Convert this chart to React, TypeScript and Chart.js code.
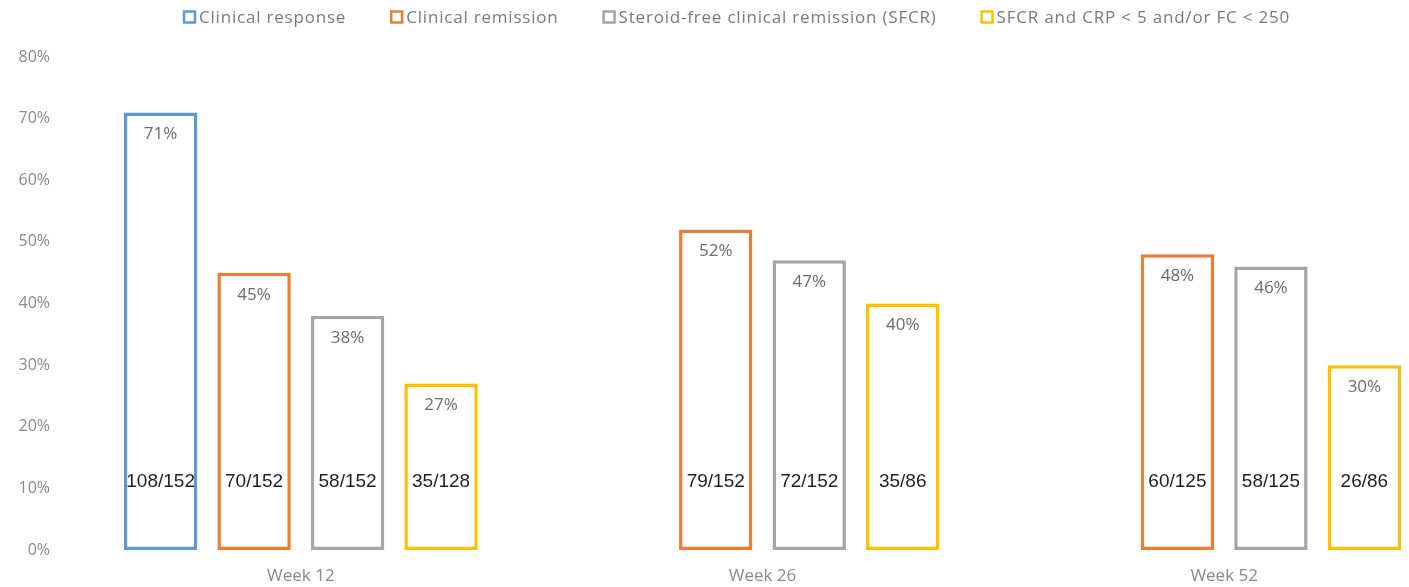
import React, { useEffect, useRef } from "react";
import { Chart, registerables } from "chart.js";

Chart.register(...registerables);

// ---- data ----
const categories = ["Week 12", "Week 26", "Week 52"];
const seriesNames = [
  "Clinical response",
  "Clinical remission",
  "Steroid-free clinical remission (SFCR)",
  "SFCR and CRP < 5 and/or FC < 250",
];
const clinicalResponse = [71, null, null];
const clinicalRemission = [45, 52, 48];
const steroidFreeRemission = [38, 47, 46];
const sfcrBiomarker = [27, 40, 30];

const clinicalResponseCounts = ["108/152", null, null];
const clinicalRemissionCounts = ["70/152", "79/152", "60/125"];
const steroidFreeCounts = ["58/152", "72/152", "58/125"];
const sfcrBiomarkerCounts = ["35/128", "35/86", "26/86"];

const yMin = 0;
const yMax = 80;
const yStep = 10;
const countLabelLevel = 11;

const seriesColors = ["#5b9bd5", "#ed7d31", "#a5a5a5", "#ffc000"];

const seriesValues = [clinicalResponse, clinicalRemission, steroidFreeRemission, sfcrBiomarker];
const seriesCounts = [clinicalResponseCounts, clinicalRemissionCounts, steroidFreeCounts, sfcrBiomarkerCounts];

const CANVAS_W = 1460;
const CANVAS_H = 587;

const labelsPlugin = {
  id: "barLabels",
  afterDatasetsDraw(chart: any) {
    const ctx = chart.ctx;
    const yScale = chart.scales.y;
    ctx.save();
    ctx.textAlign = "center";
    ctx.textBaseline = "middle";
    chart.data.datasets.forEach((ds: any, di: number) => {
      const meta = chart.getDatasetMeta(di);
      meta.data.forEach((bar: any, i: number) => {
        const v = ds.data[i];
        if (v === null || v === undefined) return;
        ctx.font = "17px 'Open Sans'";
        ctx.fillStyle = "#6b6b6b";
        ctx.fillText(v + "%", bar.x, bar.y + 22);
        const c = seriesCounts[di][i];
        if (c) {
          ctx.font = "19px 'Liberation Sans'";
          ctx.fillStyle = "#1f1f1f";
          ctx.fillText(c, bar.x, yScale.getPixelForValue(countLabelLevel));
        }
      });
    });
    ctx.restore();
  },
};

const legendPlugin = {
  id: "customLegend",
  afterDraw(chart: any) {
    const ctx = chart.ctx;
    ctx.save();
    ctx.font = "17px 'Open Sans'";
    (ctx as any).letterSpacing = "0.8px";
    ctx.textBaseline = "middle";
    ctx.textAlign = "left";
    const box = 11;
    const gapBoxText = 4;
    const gapItems = 45;
    const widths = chart.data.datasets.map((ds: any) => ctx.measureText(ds.label).width);
    const total =
      widths.reduce((a: number, b: number) => a + b, 0) +
      widths.length * (box + gapBoxText) +
      (widths.length - 1) * gapItems;
    let x = 737 - total / 2;
    const y = 17;
    chart.data.datasets.forEach((ds: any, i: number) => {
      ctx.fillStyle = "#ffffff";
      ctx.fillRect(x, y - box / 2, box, box);
      ctx.strokeStyle = ds.borderColor;
      ctx.lineWidth = 2.5;
      ctx.strokeRect(x, y - box / 2, box, box);
      ctx.fillStyle = "#7a7a7a";
      ctx.fillText(ds.label, x + box + gapBoxText, y + 1);
      x += box + gapBoxText + widths[i] + gapItems;
    });
    ctx.restore();
  },
};

export default function App() {
  const canvasRef = useRef<HTMLCanvasElement | null>(null);

  useEffect(() => {
    document.body.style.margin = "0";
    const canvas = canvasRef.current;
    if (!canvas) return;
    const chart = new Chart(canvas, {
      type: "bar",
      data: {
        labels: categories,
        datasets: seriesNames.map((name, i) => ({
          label: name,
          data: seriesValues[i],
          backgroundColor: "#ffffff",
          borderColor: seriesColors[i],
          borderWidth: 3.5,
          borderSkipped: false,
          categoryPercentage: 0.81,
          barPercentage: 0.785,
        })),
      },
      options: {
        responsive: false,
        animation: false,
        devicePixelRatio: 1,
        layout: { padding: { top: 57, right: 5, bottom: 0, left: 0 } },
        plugins: {
          legend: { display: false },
          tooltip: { enabled: false },
        },
        scales: {
          x: {
            grid: { display: false, drawTicks: false },
            border: { display: false },
            afterFit: (scale: any) => {
              scale.height = 37;
            },
            ticks: {
              color: "#8a8a8a",
              font: { family: "'Open Sans'", size: 17 },
              padding: 16,
            },
          },
          y: {
            min: yMin,
            max: yMax,
            grid: { display: false, drawTicks: false },
            border: { display: false },
            afterFit: (scale: any) => {
              scale.width = 70;
            },
            ticks: {
              stepSize: yStep,
              color: "#8a8a8a",
              font: { family: "'Open Sans'", size: 16 },
              padding: 20,
              callback: (v: any) => v + "%",
            },
          },
        },
      },
      plugins: [labelsPlugin, legendPlugin],
    });
    return () => chart.destroy();
  }, []);

  return (
    <div style={{ width: 1409, height: CANVAS_H, overflow: "hidden", position: "relative" }}>
      <canvas
        ref={canvasRef}
        width={CANVAS_W}
        height={CANVAS_H}
        style={{ display: "block", width: CANVAS_W, height: CANVAS_H }}
      />
    </div>
  );
}
